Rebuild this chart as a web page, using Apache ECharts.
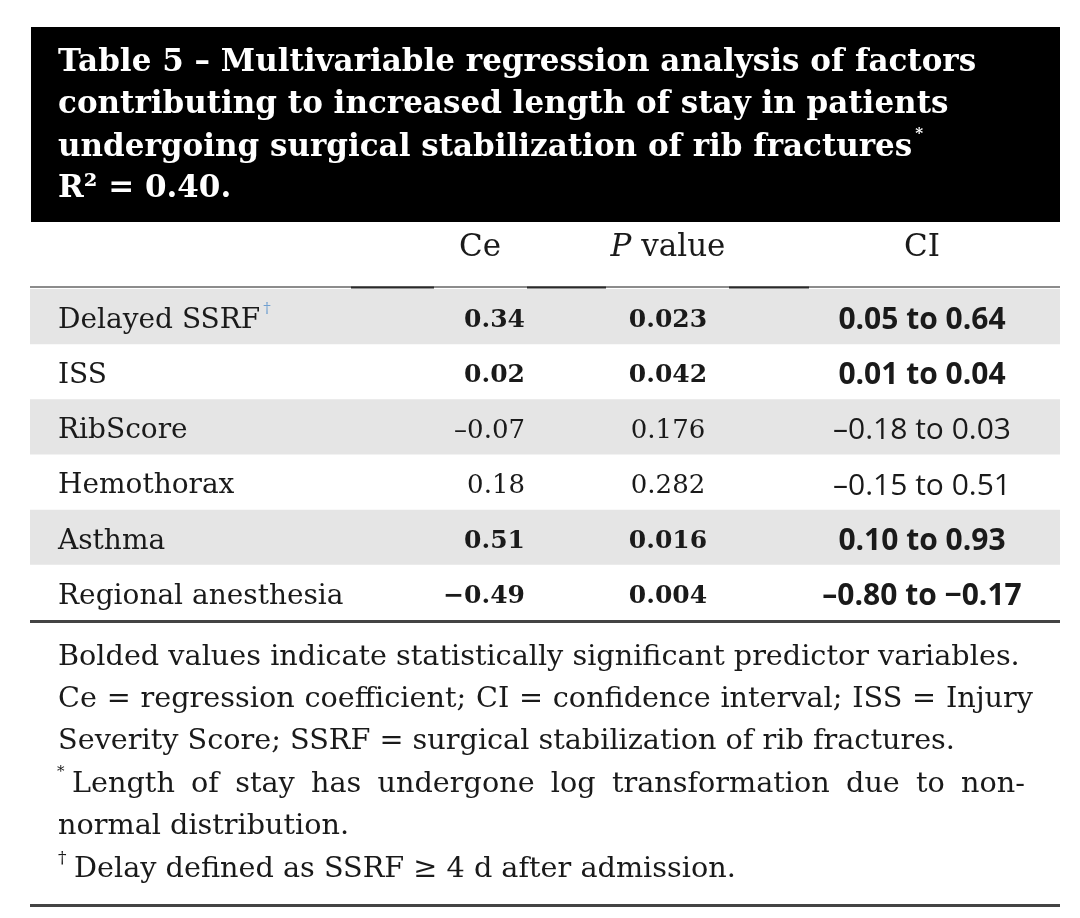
<!DOCTYPE html>
<html><head><meta charset="utf-8">
<script src="https://cdn.jsdelivr.net/npm/echarts@6/dist/echarts.min.js"></script>
<style>html,body{margin:0;padding:0;background:#fff}#c{width:1080px;height:918px}</style>
</head><body><div id="c"></div>
<script>
// ---- data ----
const titleLines = [
  'Table 5 \u2013 Multivariable regression analysis of factors',
  'contributing to increased length of stay in patients',
  'undergoing surgical stabilization of rib fractures',
  'R\u00b2 = 0.40.'
];
const columnHeaders = ['Ce', 'P value', 'CI'];
const rowLabels = ['Delayed SSRF', 'ISS', 'RibScore', 'Hemothorax', 'Asthma', 'Regional anesthesia'];
const ceValues = [0.34, 0.02, -0.07, 0.18, 0.51, -0.49];
const pValues = [0.023, 0.042, 0.176, 0.282, 0.016, 0.004];
const ciLow = [0.05, 0.01, -0.18, -0.15, 0.10, -0.80];
const ciHigh = [0.64, 0.04, 0.03, 0.51, 0.93, -0.17];
const significant = [true, true, false, false, true, true];
const footnoteLines = [
  'Bolded values indicate statistically significant predictor variables.',
  'Ce = regression coefficient; CI = confidence interval; ISS = Injury',
  'Severity Score; SSRF = surgical stabilization of rib fractures.',
  'Length of stay has undergone log transformation due to non-',
  'normal distribution.',
  'Delay defined as SSRF \u2265 4 d after admission.'
];

// ---- layout / style ----
const SERIF = '"DejaVu Serif", serif';
const SANS = '"Open Sans", sans-serif';
const INK = '#1a1a1a';
const cv = document.createElement('canvas').getContext('2d');
function measure(t, font) { cv.font = font; return cv.measureText(t).width; }
function fmt(v, bold, first) {
  if (v >= 0) return v.toFixed(2);
  const m = (bold && !first) ? '\u2212' : '\u2013';
  return m + Math.abs(v).toFixed(2);
}

const colX = [28, 495, 638, 892];          // axis units (px from grid left)
const colAlign = ['left', 'right', 'center', 'center'];
function cellText(r, c) {
  const b = significant[r];
  if (c === 0) return rowLabels[r];
  if (c === 1) return (b && ceValues[r] < 0) ? '\u2212' + Math.abs(ceValues[r]).toFixed(2) : fmt(ceValues[r], false, true);
  if (c === 2) return pValues[r].toFixed(3);
  return fmt(ciLow[r], b, true) + ' to ' + (b && ciHigh[r] < 0 ? '\u2212' + Math.abs(ciHigh[r]).toFixed(2) : fmt(ciHigh[r], b, false));
}
function cellFont(r, c) {
  if (c === 0) return 'normal 28px ' + SERIF;
  if (c === 3) return (significant[r] ? 'bold' : 'normal') + ' 30px ' + SANS;
  return (significant[r] ? 'bold 25px ' : 'normal 26px ') + SERIF;
}
const cells = [];
rowLabels.forEach((_, r) => { for (let c = 0; c < 4; c++) cells.push([colX[c], r, c]); });

// ---- graphics (title, header, rules, footnotes) ----
const g = [];
g.push({ type: 'rect', shape: { x: 31, y: 27, width: 1029, height: 195 }, style: { fill: '#000' }, z: 0 });
const titleFont = 'bold 31px ' + SERIF;
const titleY = [63, 105, 148, 189];
titleLines.forEach((t, i) => g.push({ type: 'text', x: 58, y: titleY[i], z: 1,
  style: { text: t, font: titleFont, fill: '#fff', align: 'left', verticalAlign: 'middle' } }));
g.push({ type: 'text', x: 58 + measure(titleLines[2], titleFont) + 3, y: 134, z: 1,
  style: { text: '*', font: 'bold 15px ' + SERIF, fill: '#fff', verticalAlign: 'middle' } });

const headX = [480, 668, 922];
const headFont = 'normal 31px ' + SERIF;
g.push({ type: 'text', x: headX[0], y: 248, style: { text: columnHeaders[0], font: headFont, fill: INK, align: 'center', verticalAlign: 'middle' } });
g.push({ type: 'text', x: headX[1], y: 248, style: { text: '{i|P}{n|' + columnHeaders[1].slice(1) + '}', fill: INK, align: 'center', verticalAlign: 'middle',
  rich: { i: { font: 'italic 31px ' + SERIF, fill: INK }, n: { font: headFont, fill: INK } } } });
g.push({ type: 'text', x: headX[2], y: 248, style: { text: columnHeaders[2], font: headFont, fill: INK, align: 'center', verticalAlign: 'middle' } });

function rule(y, w, col, x1, x2) { g.push({ type: 'line', shape: { x1: x1 || 30, y1: y, x2: x2 || 1060, y2: y }, style: { stroke: col, lineWidth: w }, z: 5 }); }
rule(287, 1.5, '#666');
rule(287.5, 2, '#2a2a2a', 351, 434);
rule(287.5, 2, '#2a2a2a', 527, 606);
rule(287.5, 2, '#2a2a2a', 729, 809);
rule(621.5, 3, '#444');
rule(905.5, 3, '#444');

const footFont = 'normal 28.7px ' + SERIF;
function placeLine(text, x0, y, right) {
  const words = text.split(' ');
  const ws = words.map(w => measure(w, footFont));
  const total = ws.reduce((a, b) => a + b, 0);
  const sp = right ? (right - x0 - total) / (words.length - 1) : measure(' ', footFont);
  let x = x0;
  words.forEach((w, i) => {
    g.push({ type: 'text', x: x, y: y, style: { text: w, font: footFont, fill: INK, align: 'left', verticalAlign: 'middle' } });
    x += ws[i] + sp;
  });
}
const footY = [658, 700, 742, 785, 827, 870];
const footStart = [58, 58, 58, 72, 58, 74];
const footRight = [null, 1033, null, 1025, null, null];
footnoteLines.forEach((t, i) => placeLine(t, footStart[i], footY[i], footRight[i]));
g.push({ type: 'text', x: 57, y: 772, style: { text: '*', font: 'normal 15px ' + SERIF, fill: INK, verticalAlign: 'middle' } });
g.push({ type: 'text', x: 58, y: 859, style: { text: '\u2020', font: 'normal 17px ' + SERIF, fill: INK, verticalAlign: 'middle' } });

// ---- chart ----
const chart = echarts.init(document.getElementById('c'), null, { renderer: 'canvas' });
chart.setOption({
  backgroundColor: '#fff',
  animation: false,
  grid: { left: 30, right: 20, top: 289, height: 331 },
  xAxis: { type: 'value', min: 0, max: 1030, show: false },
  yAxis: { type: 'category', data: rowLabels, inverse: true, show: false },
  graphic: g,
  series: [
    {
      type: 'bar', silent: true, barWidth: '100%', barCategoryGap: 0,
      itemStyle: { color: '#e5e5e5' },
      data: rowLabels.map((_, i) => (i % 2 === 0 ? 1030 : '-')),
      z: 1
    },
    {
      type: 'custom', silent: true, z: 3,
      data: cells,
      renderItem: function (params, api) {
        const r = api.value(1), c = api.value(2);
        const p = api.coord([api.value(0), r]);
        const font = cellFont(r, c);
        const text = cellText(r, c);
        const kids = [{ type: 'text', x: p[0], y: p[1] + 4,
          style: { text: text, font: font, fill: INK, align: colAlign[c], verticalAlign: 'middle' } }];
        if (c === 0 && r === 0) {
          kids.push({ type: 'text', x: p[0] + measure(text, font) + 3, y: p[1] - 7,
            style: { text: '\u2020', font: 'normal 15px ' + SERIF, fill: '#6f9fd0', align: 'left', verticalAlign: 'middle' } });
        }
        return { type: 'group', children: kids };
      }
    }
  ]
});
</script>
</body></html>
